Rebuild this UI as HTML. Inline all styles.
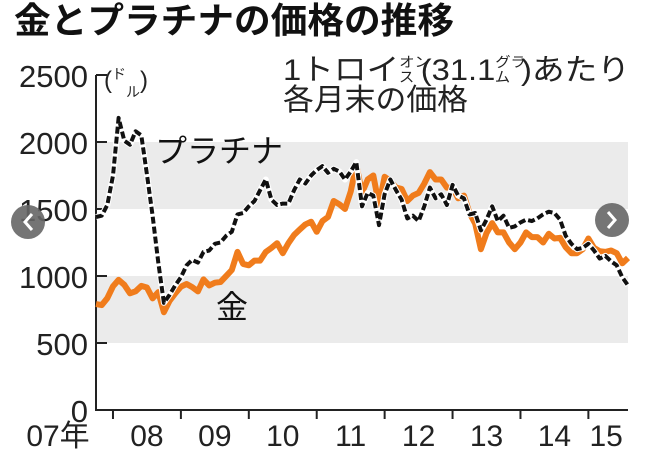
<!DOCTYPE html>
<html><head><meta charset="utf-8"><style>
body{margin:0;background:#fff;}
svg{display:block;font-family:"Liberation Sans","Noto Sans CJK JP",sans-serif;}
</style></head><body>
<svg id="chart" width="645" height="450" viewBox="0 0 645 450" xmlns="http://www.w3.org/2000/svg">
<text x="14" y="33" font-size="36" font-weight="bold" fill="#111" textLength="440" lengthAdjust="spacingAndGlyphs" font-family="Noto Sans CJK JP, sans-serif">金とプラチナの価格の推移</text>
<text x="283" y="80" font-size="30" fill="#222" textLength="347" lengthAdjust="spacingAndGlyphs">1トロイ<tspan font-size="14" dy="-13">オン</tspan><tspan font-size="14" dx="-28" dy="15">ス</tspan><tspan dx="6" dy="-2">(31.1</tspan><tspan font-size="14" dy="-13">グラ</tspan><tspan font-size="14" dx="-28" dy="15">ム</tspan><tspan dx="10" dy="-2">)あたり</tspan></text>
<text x="283" y="110" font-size="30" fill="#222" textLength="185" lengthAdjust="spacingAndGlyphs">各月末の価格</text>
<text x="104" y="88" font-size="24" fill="#222">(<tspan font-size="14" dy="-9">ド</tspan><tspan font-size="14" dy="18">ル</tspan><tspan dy="-9">)</tspan></text>
<g id="bands"></g>
<g id="axes"></g>
<g id="lines"></g>
<text x="155" y="162" font-size="32" fill="#111">プラチナ</text>
<text x="216" y="318" font-size="32" fill="#111">金</text>
<g><circle cx="28" cy="222" r="17" fill="#666" opacity="0.9"/><path d="M32 214 L25 222 L32 230" stroke="#fff" stroke-width="3" fill="none"/></g>
<g><circle cx="612" cy="220" r="17" fill="#666" opacity="0.9"/><path d="M608 212 L615 220 L608 228" stroke="#fff" stroke-width="3" fill="none"/></g>
</svg>
<script>
const yTicks=[0,500,1000,1500,2000,2500];
const years=["07年","08","09","10","11","12","13","14","15"];
const gold=[790,783,834,923,971,934,871,886,926,914,833,880,730,815,870,920,940,917,885,975,930,950,955,1000,1045,1180,1090,1080,1115,1115,1180,1210,1245,1170,1245,1307,1346,1385,1405,1330,1410,1440,1560,1535,1500,1630,1830,1620,1720,1750,1530,1740,1710,1660,1650,1560,1600,1620,1690,1775,1720,1720,1660,1660,1580,1600,1470,1390,1200,1320,1395,1325,1325,1250,1200,1250,1325,1290,1290,1250,1315,1280,1285,1215,1170,1170,1200,1280,1210,1185,1180,1190,1170,1095,1135];
const platinum=[1440,1450,1530,1750,2180,2010,1980,2080,2050,1760,1450,1100,800,860,930,990,1080,1120,1100,1180,1190,1240,1250,1300,1330,1460,1470,1520,1560,1640,1720,1570,1530,1540,1540,1640,1720,1690,1750,1790,1820,1770,1800,1780,1720,1780,1850,1520,1620,1600,1380,1610,1720,1640,1570,1430,1450,1410,1520,1660,1580,1610,1530,1680,1600,1580,1460,1470,1340,1420,1520,1410,1450,1360,1370,1400,1420,1410,1430,1460,1480,1470,1420,1300,1240,1200,1210,1240,1190,1130,1150,1110,1080,990,930];
const X0=96,X1=628,Y0=410;
const N=gold.length;
function xm(i){return X0+i*(X1-X0)/(N-1);}
function y(v){return Y0-v*0.134;}
function xYear(k){return X0+(k*12-9)*(X1-X0)/(N-1);}
const NS="http://www.w3.org/2000/svg";
function mk(t,a,p){const e=document.createElementNS(NS,t);for(const k in a)e.setAttribute(k,a[k]);p.appendChild(e);return e;}
const bands=document.getElementById('bands');
[[500,1000],[1500,2000]].forEach((b,i)=>{
 const r=mk('rect',{x:X0,y:y(b[1]),width:X1-X0,height:y(b[0])-y(b[1]),fill:'#ebebeb'},bands);
 
 
});
const ax=document.getElementById('axes');
const yl=mk('path',{d:`M${X0} ${y(2500)} V${Y0} H${X1}`,stroke:'#222','stroke-width':2,fill:'none'},ax);


yTicks.forEach(v=>{
 if(v>0){const t=mk('line',{x1:X0,x2:X0+11,y1:y(v),y2:y(v),stroke:'#222','stroke-width':2},ax);
 
 }
 const l=mk('text',{x:88,y:y(v)+12,'text-anchor':'end','font-size':31,fill:'#222'},ax);
 l.textContent=v;
 
 
});
years.forEach((s,k)=>{
 if(k>0){const t=mk('line',{x1:xYear(k),x2:xYear(k),y1:Y0,y2:Y0+9,stroke:'#222','stroke-width':2},ax);
 
 }
 const cx=k===0?58:(xYear(k)+Math.min(xYear(k+1),X1))/2+(k===8?-2:0);
 const l=mk('text',{x:cx,y:446,'text-anchor':'middle','font-size':30,fill:'#222'},ax);
 l.textContent=s;
 
 
});
const ln=document.getElementById('lines');
function pts(a){return a.map((v,i)=>xm(i).toFixed(1)+','+y(v).toFixed(1)).join(' ');}
const g=mk('polyline',{points:pts(gold),fill:'none',stroke:'#f07c1c','stroke-width':6,'stroke-linejoin':'round'},ln);


const pw=mk('polyline',{points:pts(platinum),fill:'none',stroke:'#fff','stroke-width':6,'stroke-linejoin':'round'},ln);


const p=mk('polyline',{points:pts(platinum),fill:'none',stroke:'#111','stroke-width':4,'stroke-dasharray':'7,3','stroke-linejoin':'round'},ln);


</script>
</body></html>
